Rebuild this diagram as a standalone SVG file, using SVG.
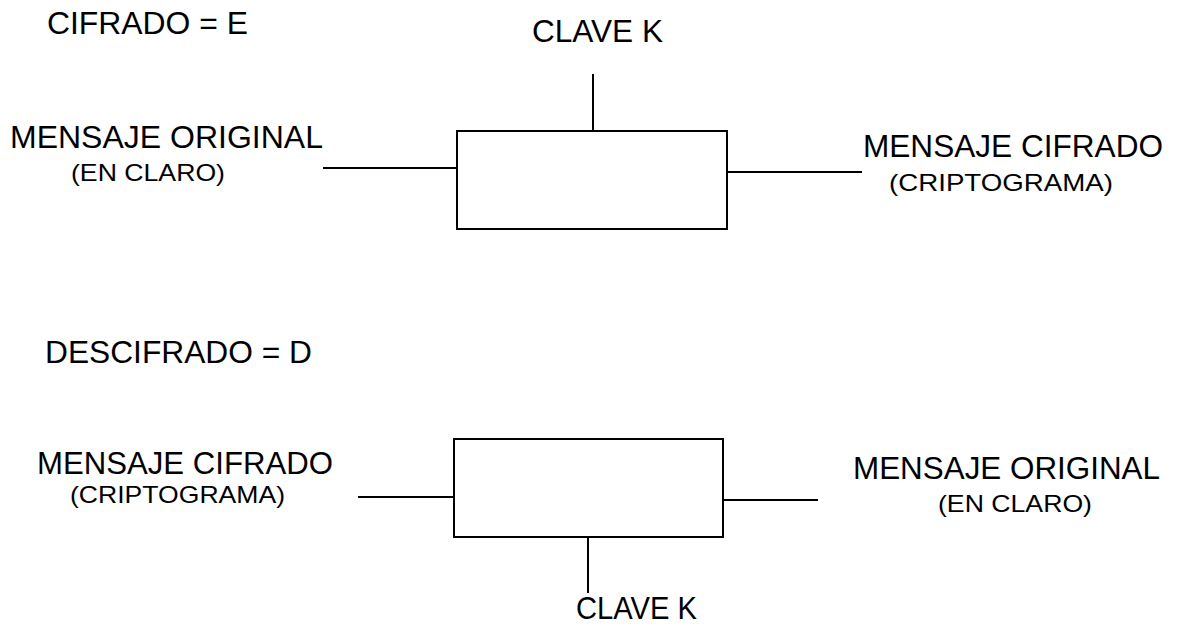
<svg xmlns="http://www.w3.org/2000/svg" width="1177" height="626" viewBox="0 0 1177 626">
<style>
text{font-family:"Liberation Sans",Arial,sans-serif;fill:#000}
.big{font-size:31px}
.small{font-size:24px}
.ln{stroke:#000;stroke-width:2;fill:none}
</style>
<rect width="1177" height="626" fill="#fff"/>
<g id="title-e"><text class="big" x="47" y="34" textLength="201" lengthAdjust="spacingAndGlyphs">CIFRADO = E</text></g>
<g id="title-d"><text class="big" x="45" y="363" textLength="267" lengthAdjust="spacingAndGlyphs">DESCIFRADO = D</text></g>

<g id="enc-box"><rect class="ln" x="457" y="131" width="270" height="98"/></g>
<g id="enc-key"><text class="big" x="532" y="42" textLength="131" lengthAdjust="spacingAndGlyphs">CLAVE K</text></g>
<g id="enc-in">
<text class="big" x="10" y="148" textLength="313" lengthAdjust="spacingAndGlyphs">MENSAJE ORIGINAL</text>
<text class="small" x="71" y="181" textLength="154" lengthAdjust="spacingAndGlyphs">(EN CLARO)</text>
</g>
<g id="enc-out">
<text class="big" x="863" y="157" textLength="300" lengthAdjust="spacingAndGlyphs">MENSAJE CIFRADO</text>
<text class="small" x="889" y="191" textLength="224" lengthAdjust="spacingAndGlyphs">(CRIPTOGRAMA)</text>
</g>

<g id="dec-box"><rect class="ln" x="454" y="439" width="269" height="98"/></g>
<g id="dec-key"><text class="big" x="576" y="619" textLength="121" lengthAdjust="spacingAndGlyphs">CLAVE K</text></g>
<g id="dec-in">
<text class="big" x="37" y="474" textLength="296" lengthAdjust="spacingAndGlyphs">MENSAJE CIFRADO</text>
<text class="small" x="70" y="503" textLength="215" lengthAdjust="spacingAndGlyphs">(CRIPTOGRAMA)</text>
</g>
<g id="dec-out">
<text class="big" x="853" y="479" textLength="307" lengthAdjust="spacingAndGlyphs">MENSAJE ORIGINAL</text>
<text class="small" x="938" y="512" textLength="154" lengthAdjust="spacingAndGlyphs">(EN CLARO)</text>
</g>

<g id="connectors" class="ln">
<line class="ln" x1="593" y1="74" x2="593" y2="131"/>
<line class="ln" x1="323" y1="168" x2="457" y2="168"/>
<line class="ln" x1="727" y1="172" x2="862" y2="172"/>
<line class="ln" x1="588" y1="537" x2="588" y2="593"/>
<line class="ln" x1="358" y1="497" x2="454" y2="497"/>
<line class="ln" x1="723" y1="500" x2="818" y2="500"/>
</g>
</svg>
